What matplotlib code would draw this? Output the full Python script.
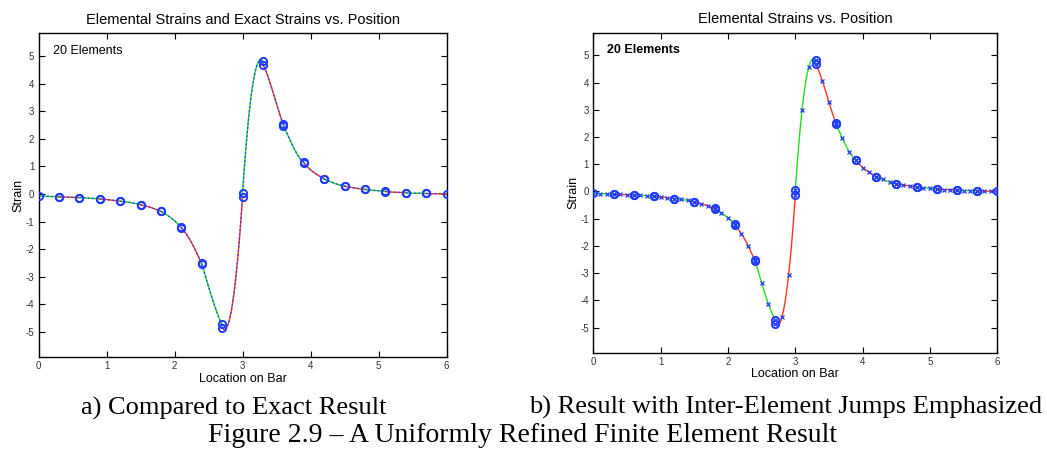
import numpy as np
import matplotlib.pyplot as plt

# 20 cubic elements on a bar of length 6; strain at the 4 nodes of each element
bar_length = 6.0
n_elements = 20
element_strain = [
    [-0.06, -0.08, -0.09, -0.10],
    [-0.11, -0.11, -0.12, -0.13],
    [-0.13, -0.14, -0.16, -0.18],
    [-0.18, -0.20, -0.23, -0.26],
    [-0.26, -0.29, -0.33, -0.39],
    [-0.40, -0.45, -0.53, -0.63],
    [-0.62, -0.78, -0.97, -1.21],
    [-1.23, -1.55, -2.00, -2.55],
    [-2.50, -3.36, -4.13, -4.72],
    [-4.85, -4.62, -3.05, -0.12],
    [0.05, 3.00, 4.57, 4.82],
    [4.68, 4.07, 3.27, 2.53],
    [2.48, 1.95, 1.46, 1.16],
    [1.14, 0.88, 0.70, 0.55],
    [0.54, 0.44, 0.35, 0.29],
    [0.28, 0.24, 0.20, 0.17],
    [0.17, 0.14, 0.12, 0.10],
    [0.09, 0.07, 0.06, 0.05],
    [0.04, 0.03, 0.03, 0.02],
    [0.02, 0.01, 0.01, 0.00],
]

# exact strain at the same nodes (continuous across elements)
exact_strain = [
    [-0.06, -0.08, -0.09, -0.10],
    [-0.10, -0.11, -0.12, -0.13],
    [-0.13, -0.14, -0.16, -0.18],
    [-0.18, -0.20, -0.23, -0.26],
    [-0.26, -0.29, -0.33, -0.39],
    [-0.39, -0.45, -0.53, -0.63],
    [-0.63, -0.78, -0.97, -1.22],
    [-1.22, -1.55, -2.00, -2.53],
    [-2.53, -3.36, -4.13, -4.80],
    [-4.80, -4.63, -3.05, -0.05],
    [-0.05, 3.00, 4.58, 4.76],
    [4.76, 4.07, 3.27, 2.51],
    [2.51, 1.95, 1.46, 1.15],
    [1.15, 0.88, 0.70, 0.55],
    [0.55, 0.44, 0.35, 0.29],
    [0.29, 0.24, 0.20, 0.17],
    [0.17, 0.14, 0.12, 0.10],
    [0.10, 0.07, 0.06, 0.05],
    [0.05, 0.03, 0.03, 0.02],
    [0.02, 0.01, 0.01, 0.00],
]

x_ticks = [0, 1, 2, 3, 4, 5, 6]
y_ticks = [-5, -4, -3, -2, -1, 0, 1, 2, 3, 4, 5]

GREEN = '#1ee01e'
RED = '#ff3322'
BLUE = '#1f3cff'

h = bar_length / n_elements


def element_curve(i, vals, n=40):
    '''
    Cubic through the 4 equally spaced nodal values of element i
    '''
    xn = i * h + np.linspace(0, h, 4)
    coef = np.polyfit(xn - xn[0], vals, 3)
    xs = np.linspace(xn[0], xn[-1], n)
    return xn, xs, np.polyval(coef, xs - xn[0])


def style_axes(ax, title):
    ax.set_xlim(0, 6)
    ax.set_ylim(-5.92, 5.83)
    ax.set_xticks(x_ticks)
    ax.set_yticks(y_ticks)
    ax.tick_params(direction='in', length=4, width=0.8, top=True, right=True,
                   labelsize=7, labelcolor='#333333', pad=3)
    for s in ax.spines.values():
        s.set_linewidth(1.0)
    ax.set_title(title, fontsize=10.5, pad=7)
    ax.set_xlabel('Location on Bar', fontsize=9, labelpad=1)
    ax.set_ylabel('Strain', fontsize=9, labelpad=1)


plt.rcParams['font.family'] = ['Liberation Sans', 'DejaVu Sans']
plt.rcParams['axes.unicode_minus'] = False

fig = plt.figure(figsize=(10.47, 4.53), dpi=100)
ax1 = fig.add_axes([0.0368, 0.2113, 0.3897, 0.7152])
ax2 = fig.add_axes([0.5667, 0.2214, 0.3859, 0.7064])

for i in range(n_elements):
    color = GREEN if i % 2 == 0 else RED
    # left: element strains with the exact strain laid over them
    xn, xs, ys = element_curve(i, element_strain[i])
    ax1.plot(xs, ys, color=color, lw=1.0, zorder=2)
    _, xe, ye = element_curve(i, exact_strain[i])
    ax1.plot(xe, ye, color=BLUE, lw=1.0, ls=(0, (1.5, 1.5)), alpha=0.8, zorder=3)
    ax1.plot(xn[[0, -1]], np.array(element_strain[i])[[0, -1]], 'o', ms=5.2,
             mfc='none', mec=BLUE, mew=1.4, zorder=4)

    # right: element strains with node markers, jumps shown by the circles
    ax2.plot(xs, ys, color=color, lw=1.0, zorder=2)
    ax2.plot(xn, element_strain[i], 'x', ms=3, mec=BLUE, mew=0.9, zorder=3)
    ax2.plot(xn[[0, -1]], np.array(element_strain[i])[[0, -1]], 'o', ms=5.2,
             mfc='none', mec=BLUE, mew=1.4, zorder=4)

style_axes(ax1, 'Elemental Strains and Exact Strains vs. Position')
style_axes(ax2, 'Elemental Strains vs. Position')

ax1.text(0.035, 0.965, '20 Elements', transform=ax1.transAxes, fontsize=9,
         va='top', ha='left')
ax2.text(0.035, 0.965, '20 Elements', transform=ax2.transAxes, fontsize=9,
         fontweight='bold', va='top', ha='left')

serif = ['Liberation Serif', 'DejaVu Serif']
fig.text(234 / 1047, 1 - 408 / 453, 'a) Compared to Exact Result',
         family=serif, fontsize=19, ha='center', va='center')
fig.text(786 / 1047, 1 - 407 / 453, 'b) Result with Inter-Element Jumps Emphasized',
         family=serif, fontsize=19, ha='center', va='center')
fig.text(523 / 1047, 1 - 435 / 453, 'Figure 2.9 \u2013 A Uniformly Refined Finite Element Result',
         family=serif, fontsize=20, ha='center', va='center')

fig.savefig('out.png', dpi=100)
plt.close(fig)
